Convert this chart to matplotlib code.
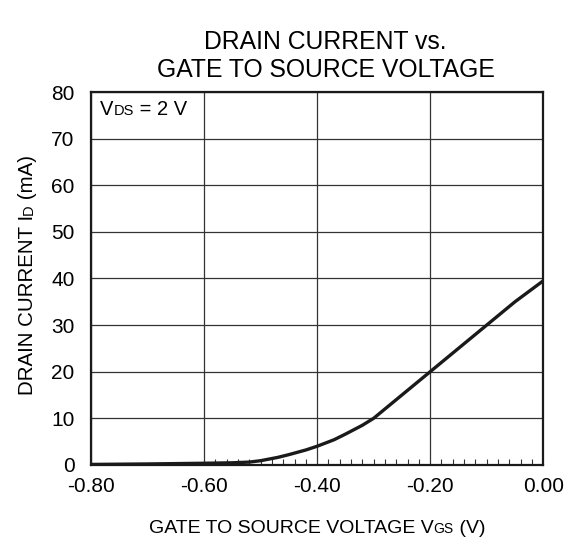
import numpy as np
import matplotlib.pyplot as plt

plt.rcParams['font.family'] = ['Liberation Sans', 'DejaVu Sans']

# 讀取曲線數據 (VGS [V], ID [mA])
vgs = [-0.80, -0.70, -0.60, -0.55, -0.52, -0.50, -0.47, -0.45, -0.42, -0.40,
       -0.37, -0.35, -0.32, -0.30, -0.25, -0.20, -0.15, -0.10, -0.05, 0.00]
id_ma = [0.1, 0.2, 0.35, 0.45, 0.6, 0.9, 1.6, 2.2, 3.2, 4.0,
         5.4, 6.6, 8.5, 10.0, 15.0, 20.0, 25.0, 30.0, 35.0, 39.5]
x_ticks = [-0.80, -0.60, -0.40, -0.20, 0.00]
y_ticks = [0, 10, 20, 30, 40, 50, 60, 70, 80]

fig = plt.figure(figsize=(5.73, 5.45), dpi=100)
ax = fig.add_axes([0.159, 0.147, 0.789, 0.684])

ax.plot(vgs, id_ma, color='#1a1a1a', linewidth=2.4, solid_capstyle='butt', zorder=3)

ax.set_xlim(-0.8, 0.0)
ax.set_ylim(0, 80)
ax.set_xticks(x_ticks)
ax.set_xticklabels([f"{v:.2f}" for v in x_ticks])
ax.set_yticks(y_ticks)
ax.tick_params(axis='both', which='major', length=0, labelsize=15, colors='black')
ax.tick_params(axis='x', which='major', pad=9)
ax.tick_params(axis='y', which='major', pad=12)
ax.set_xticks(np.arange(-0.58, -0.01, 0.02), minor=True)
ax.tick_params(axis='x', which='minor', direction='in', length=4, width=0.8, color='#333333')
ax.grid(True, which='major', color='#333333', linewidth=0.9)
for s in ax.spines.values():
    s.set_linewidth(1.6)
    s.set_color('#1a1a1a')
# 0 刻度稍微下移
ax.get_yticklabels()[0].set_y(-1.0)

# 標題
fig.text(0.568, 0.897, "DRAIN CURRENT vs.\nGATE TO SOURCE VOLTAGE", ha='center', va='center',
         fontsize=17.8, linespacing=1.2)

def pieces(x, y, parts, rotation=0, ha='center'):
    # 以像素位置逐段放置文字（小字下標）
    fig.canvas.draw()
    r = fig.canvas.get_renderer()
    objs = []
    for txt, size in parts:
        t = fig.text(0, 0, txt, fontsize=size, rotation=rotation,
                     rotation_mode='anchor', ha='left', va='baseline')
        objs.append(t)
    widths = []
    for t in objs:
        bb = t.get_window_extent(r)
        widths.append(bb.width if rotation == 0 else bb.height)
    total = sum(widths)
    along = x if rotation == 0 else y
    pos = along - total / 2 if ha == 'center' else along
    for t, w in zip(objs, widths):
        if rotation == 0:
            t.set_position((pos / fig.bbox.width, y / fig.bbox.height))
        else:
            t.set_position((x / fig.bbox.width, pos / fig.bbox.height))
        pos += w

H = 545
pieces(317, H - 533, [("GATE TO SOURCE VOLTAGE V", 14), ("GS", 10), (" (V)", 14)])
pieces(33, H - 275, [("DRAIN CURRENT I", 14.8), ("D", 10.5), (" (mA)", 14.8)], rotation=90)
pieces(100, H - 115, [("V", 14.5), ("DS", 10.5), (" = 2 V", 14.5)], ha='left')

fig.savefig("out.png", dpi=100)
